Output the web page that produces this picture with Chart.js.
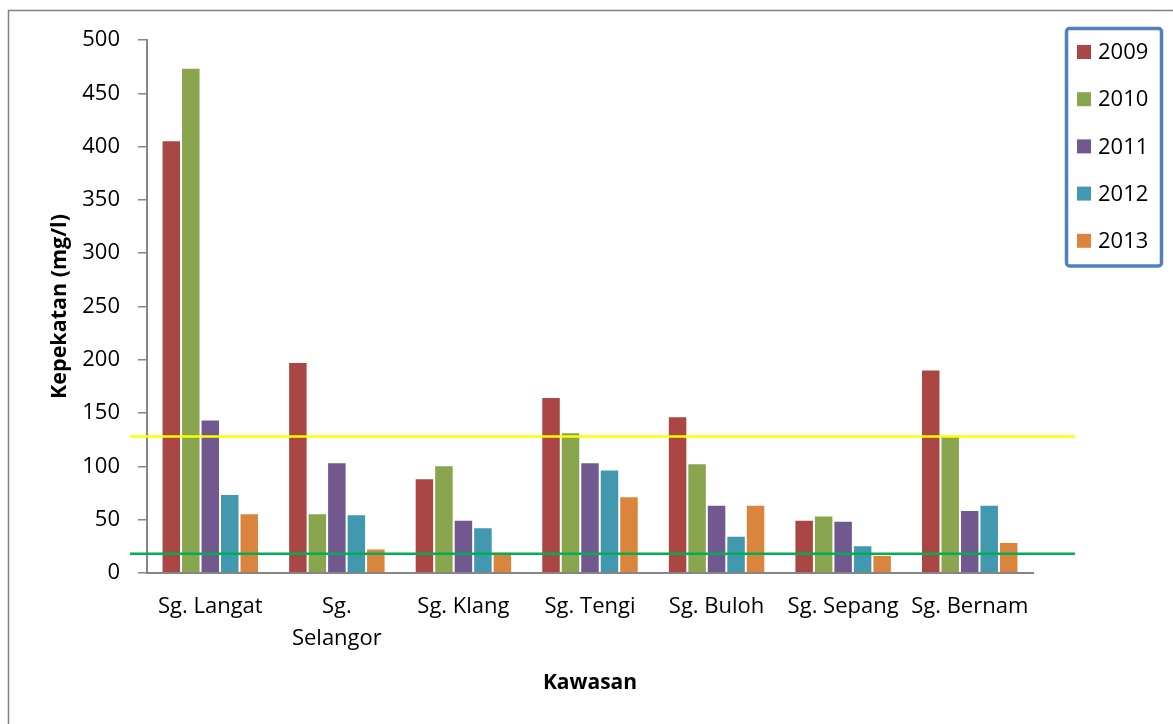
<!DOCTYPE html>
<html>
<head>
<meta charset="utf-8">
<script src="https://cdn.jsdelivr.net/npm/chart.js@4.4.0/dist/chart.umd.min.js"></script>
<style>
  body { margin: 0; background: #fff; }
  #wrap { width: 1173px; height: 724px; }
</style>
</head>
<body>
<div id="wrap"><canvas id="chartContainer" width="1173" height="724"></canvas></div>
<script>
var kawasan = [['Sg. Langat'], ['Sg.', 'Selangor'], ['Sg. Klang'], ['Sg. Tengi'], ['Sg. Buloh'], ['Sg. Sepang'], ['Sg. Bernam']];
var tahun = ['2009', '2010', '2011', '2012', '2013'];
var v2009 = [406, 198, 89, 165, 147, 50, 191];
var v2010 = [474, 56, 101, 132, 103, 54, 129];
var v2011 = [144, 104, 50, 104, 64, 49, 59];
var v2012 = [74, 55, 43, 97, 35, 26, 64];
var v2013 = [56, 23, 20, 72, 64, 17, 29];
var yTicks = [0, 50, 100, 150, 200, 250, 300, 350, 400, 450, 500];
var garisHad = [128, 18];

var warna = ['#AA4643', '#89A54E', '#71588F', '#4198AF', '#DB843D'];
var warnaGaris = ['#FFFF00', '#00B050'];
var FONT = "'Open Sans', 'Liberation Sans', sans-serif";

var siri = [v2009, v2010, v2011, v2012, v2013];
var datasets = [];
for (var i in siri) {
  datasets.push({
    label: tahun[i],
    data: siri[i],
    backgroundColor: warna[i],
    borderColor: 'rgba(255,255,255,0.35)',
    borderWidth: 1,
    barPercentage: 1,
    categoryPercentage: 0.77
  });
}

// frame, limit lines and legend box
var extras = {
  id: 'extras',
  beforeDraw: function(c) {
    var ctx = c.ctx;
    ctx.save();
    ctx.strokeStyle = '#808080';
    ctx.lineWidth = 1.5;
    ctx.beginPath();
    ctx.moveTo(8.5, c.height);
    ctx.lineTo(8.5, 10.5);
    ctx.lineTo(c.width, 10.5);
    ctx.stroke();
    ctx.restore();
  },
  afterDatasetsDraw: function(c) {
    var ctx = c.ctx, a = c.chartArea, y = c.scales.y;
    ctx.save();
    ctx.lineWidth = 2.5;
    for (var i in garisHad) {
      var py = y.getPixelForValue(garisHad[i]);
      ctx.strokeStyle = warnaGaris[i];
      ctx.beginPath();
      ctx.moveTo(a.left - 17, py);
      ctx.lineTo(a.right + 42, py);
      ctx.stroke();
    }
    ctx.restore();
  },
  afterDraw: function(c) {
    var ctx = c.ctx;
    ctx.save();
    ctx.strokeStyle = '#4F81BD';
    ctx.lineWidth = 3.5;
    ctx.beginPath();
    ctx.roundRect(1066.5, 28.5, 95, 237.5, 3);
    ctx.stroke();
    ctx.font = '22px ' + FONT;
    ctx.textBaseline = 'middle';
    ctx.fillStyle = '#000';
    c.data.datasets.forEach(function(ds, k) {
      var cy = 52 + k * 47.2;
      ctx.fillStyle = ds.backgroundColor;
      ctx.fillRect(1077, cy - 7, 14, 14);
      ctx.fillStyle = '#000';
      ctx.fillText(ds.label, 1098, cy + 1);
    });
    ctx.restore();
  }
};

const ctx = document.getElementById('chartContainer');

var chart = new Chart(ctx, {
  type: 'bar',
  data: {
    labels: kawasan,
    datasets: datasets
  },
  options: {
    responsive: false,
    animation: false,
    layout: { padding: { top: 40, right: 140, left: 0, bottom: 0 } },
    plugins: {
      legend: { display: false },
      tooltip: { enabled: false }
    },
    scales: {
      x: {
        afterFit: function(s) { s.height = 151; },
        grid: { display: false, drawTicks: false },
        border: { display: true, color: '#868686', width: 2 },
        ticks: {
          color: '#000',
          autoSkip: false,
          maxRotation: 0,
          padding: 18,
          font: { family: FONT, size: 22, lineHeight: 1.45 }
        },
        title: {
          display: true,
          text: 'Kawasan',
          color: '#000',
          font: { family: FONT, size: 21, weight: 'bold' },
          padding: { bottom: 28 }
        }
      },
      y: {
        min: 0,
        max: 500,
        afterFit: function(s) { s.width = 147; },
        afterBuildTicks: function(s) {
          s.ticks = yTicks.map(function(v) { return { value: v }; });
        },
        grid: { drawOnChartArea: false, drawTicks: true, tickLength: 9, color: '#868686', lineWidth: 1.5 },
        border: { display: true, color: '#868686', width: 2 },
        ticks: {
          color: '#000',
          padding: 18,
          font: { family: FONT, size: 22 }
        },
        title: {
          display: true,
          text: 'Kepekatan (mg/l)',
          color: '#000',
          font: { family: FONT, size: 21.5, weight: 'bold' },
          padding: { top: 47 }
        }
      }
    }
  },
  plugins: [extras]
});
</script>
</body>
</html>
